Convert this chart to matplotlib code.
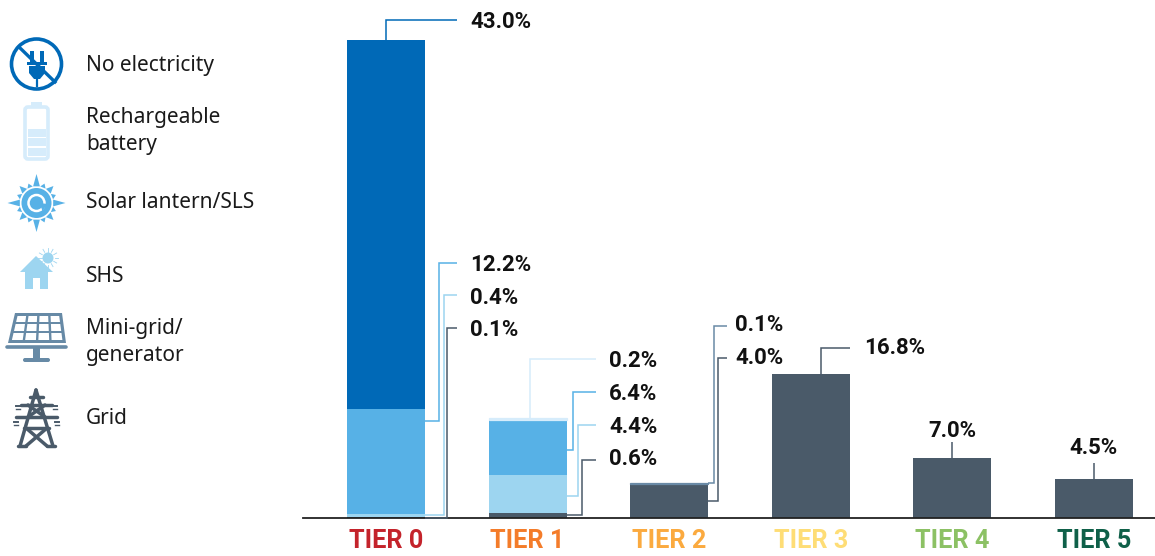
import numpy as np
import matplotlib
matplotlib.use('Agg')
import matplotlib.pyplot as plt
from matplotlib.patches import Circle, Rectangle, FancyBboxPatch, Polygon

tiers = ['TIER 0', 'TIER 1', 'TIER 2', 'TIER 3', 'TIER 4', 'TIER 5']
tier_colors = ['#c4232b', '#f47c2a', '#fbaa3f', '#fedd76', '#8cc164', '#0f6049']

grid = [0.1, 0.6, 4.0, 16.8, 7.0, 4.5]
minigrid = [0, 0, 0.1, 0, 0, 0]
shs = [0.4, 4.4, 0, 0, 0, 0]
sls = [12.2, 6.4, 0, 0, 0, 0]
battery = [0, 0.2, 0, 0, 0, 0]
no_elec = [43.0, 0, 0, 0, 0, 0]

legend_labels = ['No electricity', 'Rechargeable\nbattery', 'Solar lantern/SLS',
                 'SHS', 'Mini-grid/\ngenerator', 'Grid']
legend_y = [65, 131, 203, 276, 342, 419]

BLUE = '#0069b7'
SLS_C = '#57b1e6'
SHS_C = '#9dd5f0'
BAT_C = '#d6ecfb'
MINI_C = '#6a8aa6'
GRID_C = '#4a5a69'

W, H = 1155, 556
fig = plt.figure(figsize=(W / 100, H / 100), dpi=100)
ax = fig.add_axes([303 / W, (H - 518) / H, 852 / W, 518 / H])
ov = fig.add_axes([0, 0, 1, 1])
ov.set_xlim(0, W)
ov.set_ylim(H, 0)
ov.axis('off')
ov.patch.set_alpha(0)

# bars, thin slices get an edge so they still show up
x = np.arange(6)
bottom = np.zeros(6)
tops = {}
for name, vals, col in [('grid', grid, GRID_C), ('mini', minigrid, MINI_C), ('shs', shs, SHS_C),
                        ('sls', sls, SLS_C), ('bat', battery, BAT_C), ('none', no_elec, BLUE)]:
    vals = np.array(vals)
    keep = vals > 0
    lw = 0.9 if name in ('mini', 'bat') else 0
    ax.bar(x[keep], vals[keep], 0.55, bottom=bottom[keep], color=col, edgecolor=col, linewidth=lw)
    tops[name] = (bottom.copy(), vals)
    bottom = bottom + vals

ax.set_xlim((303 - 386) / 141.6, (1155 - 386) / 141.6)
ax.set_ylim(0, 518 / 8.58)
ax.set_yticks([])
for s in ['top', 'left', 'right']:
    ax.spines[s].set_visible(False)
ax.spines['bottom'].set_color('#222222')
ax.spines['bottom'].set_linewidth(1.3)
ax.set_xticks(x)
ax.set_xticklabels(tiers, family='Roboto', fontsize=18.2, fontweight='bold')
ax.tick_params(axis='x', length=0, pad=8)
for lab, c in zip(ax.get_xticklabels(), tier_colors):
    lab.set_color(c)


def px(xv, yv):
    # data -> overlay pixel coords
    p = ax.transData.transform((xv, yv))
    return p[0], H - p[1]


fig.canvas.draw()
half = 0.275


def elbow(name, i, xmid, ylab, xend, col, frac=0.5):
    b, v = tops[name]
    x0, y0 = px(i + half, b[i] + v[i] * frac)
    ov.plot([x0, xmid, xmid, xend], [y0, y0, ylab, ylab], color=col, lw=1.1,
            solid_joinstyle='miter', solid_capstyle='butt')


def vlead(xv, i, ylab, xend, col):
    x0, y0 = px(xv, bottom[i])
    pts_x = [x0, x0] + ([xend] if xend is not None else [])
    pts_y = [y0, ylab] + ([ylab] if xend is not None else [])
    ov.plot(pts_x, pts_y, color=col, lw=1.1, solid_joinstyle='miter', solid_capstyle='butt')


def val(xp, yp, s, ha='left'):
    ov.text(xp, yp + 1, s, family='Roboto', fontsize=16, fontweight='bold', color='#111111',
            ha=ha, va='center')


# tier 0
vlead(0, 0, 20, 457, BLUE)
val(470, 21, '43.0%')
elbow('sls', 0, 439, 263, 457, SLS_C, frac=0.89)
val(470, 264, '12.2%')
elbow('shs', 0, 443.5, 295, 457, SHS_C)
val(470, 297, '0.4%')
elbow('grid', 0, 447, 328, 457, GRID_C)
val(470, 329, '0.1%')

# tier 1
vlead(1.014, 1, 359, 596, BAT_C)
val(609, 360, '0.2%')
elbow('sls', 1, 573, 392, 596, SLS_C, frac=0.45)
val(609, 393, '6.4%')
elbow('shs', 1, 578, 425, 596, SHS_C, frac=0.45)
val(609, 426, '4.4%')
elbow('grid', 1, 582, 460, 596, GRID_C)
val(609, 458, '0.6%')

# tier 2
elbow('mini', 2, 714, 326, 727, MINI_C)
val(735, 324, '0.1%')
elbow('grid', 2, 718, 358, 727, GRID_C)
val(735, 357, '4.0%')

# tier 3-5
vlead(3.07, 3, 348, 850, GRID_C)
val(864, 347, '16.8%')
vlead(4, 4, 442, None, GRID_C)
val(952, 430, '7.0%', ha='center')
vlead(5, 5, 463, None, GRID_C)
val(1094, 447, '4.5%', ha='center')

# legend text
for lab, yy in zip(legend_labels, legend_y):
    ov.text(86, yy, lab, family='Noto Sans', fontsize=15, color='#1a1a1a', va='center',
            linespacing=1.38)

# icon: no electricity
ov.add_patch(Circle((36.5, 64), 25, fill=False, ec=BLUE, lw=2.6))
ov.plot([19, 55], [47, 82], color=BLUE, lw=2.4)
ov.add_patch(Rectangle((30, 51), 4, 11, color=BLUE, lw=0))
ov.add_patch(Rectangle((40, 51), 4, 11, color=BLUE, lw=0))
ov.add_patch(Rectangle((27, 62), 20, 3, color=BLUE, lw=0))
ov.add_patch(Polygon([(29, 66), (45, 66), (45, 73), (40, 79), (34, 79), (29, 73)], color=BLUE, lw=0))
ov.plot([36.5, 36.5], [78, 86], color=BLUE, lw=1.6)

# icon: battery
ov.add_patch(FancyBboxPatch((25, 107), 23, 52, boxstyle='round,pad=0,rounding_size=3', fill=False,
                            ec=BAT_C, lw=2.6))
ov.add_patch(Rectangle((31, 102), 11, 4, color=BAT_C, lw=0))
for yy in [129, 138, 148]:
    ov.add_patch(Rectangle((28, yy), 18, 8, color=BAT_C, lw=0))

# icon: sun
cx, cy = 36.5, 203
for k in range(16):
    a = k * np.pi / 8
    if k % 4 == 0:
        r, wid = 29, 0.2
    elif k % 2 == 0:
        r, wid = 24, 0.2
    else:
        r, wid = 21, 0.17
    ov.add_patch(Polygon([(cx + r * np.cos(a), cy + r * np.sin(a)),
                          (cx + 17 * np.cos(a + wid), cy + 17 * np.sin(a + wid)),
                          (cx + 17 * np.cos(a - wid), cy + 17 * np.sin(a - wid))],
                         color=SLS_C, lw=0))
ov.add_patch(Circle((cx, cy), 15, color=SLS_C, lw=0))
ov.add_patch(Circle((cx, cy), 8, fill=False, ec='white', lw=1.8))
ov.add_patch(Polygon([(cx + 3, cy), (cx + 11, cy + 1), (cx + 6, cy + 8)], color=SLS_C, lw=0))

# icon: house
ov.add_patch(Polygon([(20, 272), (36, 256), (53, 272), (48, 272), (48, 289), (40, 289), (40, 278),
                      (33, 278), (33, 289), (25, 289), (25, 272)], color=SHS_C, lw=0))
ov.add_patch(Circle((48, 258), 5.5, color=SHS_C, lw=0))
for k in range(12):
    a = k * np.pi / 6
    ov.plot([48 + 6.5 * np.cos(a), 48 + 10 * np.cos(a)], [258 + 6.5 * np.sin(a), 258 + 10 * np.sin(a)],
            color=SHS_C, lw=0.6)

# icon: solar panel
PANEL = '#678aa6'
ov.add_patch(Polygon([(15, 313), (62, 313), (66, 343), (8, 343)], color=PANEL, lw=0))


def edge(y, side):
    t = (y - 313) / 30
    return (15 - 7 * t) if side == 0 else (62 + 4 * t)


for y0, y1 in [(316, 322), (324, 331), (333, 340)]:
    for c in range(4):
        pts = []
        for yy, order in [(y0, (c, c + 1)), (y1, (c + 1, c))]:
            l, r = edge(yy, 0) + 2, edge(yy, 1) - 2
            for o in order:
                off = 1.2 if o == c + 1 else -1.2
                pts.append((l + (r - l) * o / 4 - off, yy))
        ov.add_patch(Polygon(pts, color='white', lw=0))
ov.plot([7, 66], [346.5, 346.5], color=PANEL, lw=2.6, solid_capstyle='round')
ov.add_patch(Rectangle((33, 347), 7, 11, color=PANEL, lw=0))
ov.add_patch(FancyBboxPatch((23, 358), 27, 4, boxstyle='round,pad=0,rounding_size=2', color=PANEL, lw=0))

# icon: pylon
for xs, ys in [([36, 20], [390, 446]), ([36, 53], [390, 446]), ([21, 52], [405, 405]),
               ([16, 57], [417, 417]), ([24, 49], [428, 428]), ([26, 47], [428, 446]),
               ([47, 26], [428, 446]), ([28, 45], [405, 417]), ([45, 28], [405, 417]),
               ([30, 43], [397, 397]), ([18, 26], [446, 446]), ([47, 55], [446, 446])]:
    ov.plot(xs, ys, color=GRID_C, lw=2.5, solid_capstyle='round')
for xp, yp in [(18, 406), (55, 406), (16, 422), (57, 422)]:
    ov.plot([xp - 2, xp + 2], [yp, yp], color=GRID_C, lw=1.4)
    ov.plot([xp - 2, xp + 2], [yp + 3, yp + 3], color=GRID_C, lw=1.0)

fig.savefig('out.png', dpi=100)
